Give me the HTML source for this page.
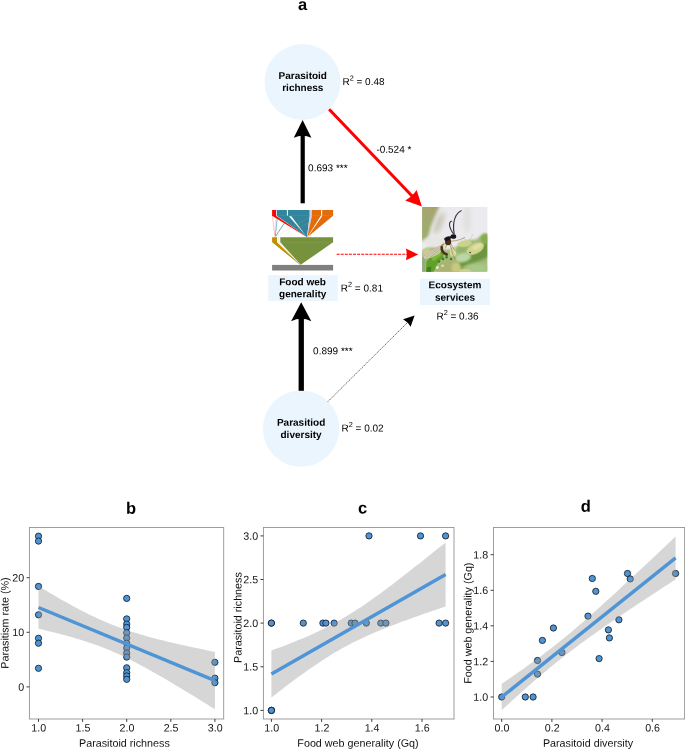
<!DOCTYPE html>
<html lang="en"><head><meta charset="utf-8"><title>Figure</title>
<style>html,body{margin:0;padding:0;background:#fff}svg{display:block;will-change:transform}text{font-family:"Liberation Sans", Arial, Helvetica, sans-serif;fill:#000;text-rendering:geometricPrecision}.b{font-weight:bold}.lab{font-size:10px}.ax{font-size:10.75px;fill:#111}.tk{font-size:10.7px;fill:#151515}</style></head><body>
<svg width="685" height="750" viewBox="0 0 685 750">
<rect width="685" height="750" fill="#fff"/>
<g id="panel-a">
<text x="302.6" y="9.9" transform="rotate(0.03 302.6 9.9)" text-anchor="middle" class="b" style="font-size:16.5px">a</text>
<circle cx="302.5" cy="82" r="38" fill="#ebf5fd"/>
<circle cx="301.1" cy="428.6" r="38.2" fill="#ebf5fd"/>
<text x="302.8" y="78.95" transform="rotate(0.03 302.8 78.95)" text-anchor="middle" class="b lab">Parasitoid</text>
<text x="302.8" y="91.0" transform="rotate(0.03 302.8 91.0)" text-anchor="middle" class="b lab">richness</text>
<text x="301.1" y="425.7" transform="rotate(0.03 301.1 425.7)" text-anchor="middle" class="b lab">Parasitiod</text>
<text x="301.1" y="437.95" transform="rotate(0.03 301.1 437.95)" text-anchor="middle" class="b lab">diversity</text>
<text x="342.4" y="85.00" transform="rotate(0.03 342.4 85.00)" class="lab">R<tspan dy="-4.6" style="font-size:7.3px">2</tspan><tspan dy="4.6"> = 0.48</tspan></text>
<text x="340.8" y="291.40" transform="rotate(0.03 340.8 291.40)" class="lab">R<tspan dy="-4.6" style="font-size:7.3px">2</tspan><tspan dy="4.6"> = 0.81</tspan></text>
<text x="341.5" y="431.50" transform="rotate(0.03 341.5 431.50)" class="lab">R<tspan dy="-4.6" style="font-size:7.3px">2</tspan><tspan dy="4.6"> = 0.02</tspan></text>
<text x="436.4" y="319.60" transform="rotate(0.03 436.4 319.60)" class="lab">R<tspan dy="-4.6" style="font-size:7.3px">2</tspan><tspan dy="4.6"> = 0.36</tspan></text>
<rect x="268.2" y="275.1" width="69.5" height="25.9" fill="#ebf5fd"/>
<text x="302.6" y="285.2" transform="rotate(0.03 302.6 285.2)" text-anchor="middle" class="b lab">Food web</text>
<text x="302.7" y="297.25" transform="rotate(0.03 302.7 297.25)" text-anchor="middle" class="b lab">generality</text>
<rect x="420" y="278.75" width="70" height="26.2" fill="#ebf5fd"/>
<text x="455" y="288.25" transform="rotate(0.03 455 288.25)" text-anchor="middle" class="b lab">Ecosystem</text>
<text x="455" y="300.75" transform="rotate(0.03 455 300.75)" text-anchor="middle" class="b lab">services</text>
<text x="376.4" y="152.85" transform="rotate(0.03 376.4 152.85)" class="lab">-0.524 *</text>
<text x="308.1" y="171.35" transform="rotate(0.03 308.1 171.35)" class="lab">0.693 ***</text>
<text x="313.1" y="354.15" transform="rotate(0.03 313.1 354.15)" class="lab">0.899 ***</text>
<rect x="300.6" y="134" width="4.2" height="69.3" fill="#000"/>
<path d="M302.6 120 L311.4 137.8 Q302.6 133.6 293.8 137.8 Z" fill="#000"/>
<rect x="298.6" y="318" width="5.3" height="72.8" fill="#000"/>
<path d="M301.2 302.3 L311.3 321.2 Q301.2 316.4 291.1 321.2 Z" fill="#000"/>
<line x1="329.1" y1="109.2" x2="413" y2="197" stroke="#ff0000" stroke-width="3"/>
<path d="M421.9 206.4 L416.6 189.9 Q412.6 196 405.2 200.5 Z" fill="#ff0000"/>
<line x1="336.6" y1="254.3" x2="407" y2="254.3" stroke="#ff0000" stroke-width="1.05" stroke-dasharray="3 1.1"/>
<path d="M418.2 254.4 L405.9 248.6 Q407.6 254.4 405.9 260.2 Z" fill="#ff0000"/>
<line x1="327.8" y1="401.7" x2="408" y2="322" stroke="#1a1a1a" stroke-width="0.7" stroke-dasharray="1.4 0.9"/>
<path d="M414.6 315.5 L403.1 319.3 Q407.9 322.1 410.6 326.8 Z" fill="#000"/>
<g id="foodweb">
<rect x="272.1" y="210.0" width="3.9" height="5.9999999999999885" fill="#ff0000"/>
<rect x="276.7" y="210.0" width="10.2" height="5.9999999999999885" fill="#31859c"/>
<rect x="287.9" y="210.0" width="21.8" height="5.9999999999999885" fill="#31859c"/>
<rect x="309.7" y="210.0" width="2.2" height="5.9999999999999885" fill="#d4cde6"/>
<rect x="311.9" y="210.0" width="9.2" height="5.9999999999999885" fill="#e36c0a"/>
<rect x="322.2" y="210.0" width="10.9" height="5.9999999999999885" fill="#e36c0a"/>
<path d="M276.7 215.7 L309.7 215.7 L307.0 236.9 Z" fill="#31859c"/>
<path d="M272.1 215.7 L275.9 215.7 L307.0 236.9 L306.7 236.9 Z" fill="#ff0000"/>
<path d="M289.0 216.2 L291.4 216.2 L306.0 235.9 Z" fill="#fff"/>
<path d="M272.3 216 L274.9 236.3" stroke="#ff6060" stroke-width="0.35" fill="none"/>
<path d="M275.6 217.5 L274.9 236.3" stroke="#ff8080" stroke-width="0.3" fill="none"/>
<path d="M277.2 218.4 L275.29999999999995 236.3" stroke="#31859c" stroke-width="0.55" fill="none"/>
<path d="M284.4 223 L275.7 236.3" stroke="#31859c" stroke-width="0.7" fill="none"/>
<path d="M310.4 216.6 L276.09999999999997 236.3" stroke="#e9a468" stroke-width="0.3" fill="none" opacity="0.6"/>
<path d="M309 222.3 L296 229.5" stroke="#d99a5e" stroke-width="0.3" fill="none" opacity="0.6"/>
<path d="M309.7 215.7 L311.9 215.7 L307.5 236.9 L307.0 236.9 Z" fill="#d4cde6"/>
<path d="M311.9 215.7 L321.1 215.7 L307.3 236.9 Z" fill="#e36c0a"/>
<path d="M322.2 215.7 L333.1 215.7 L307.6 236.9 Z" fill="#e36c0a"/>
<path d="M321.0 215.7 L322.3 215.7 L308.2 236.1 Z" fill="#fff"/>
<rect x="276.7" y="215.5" width="33" height="0.4" fill="#5aa0b4" opacity="0.7"/>
<rect x="311.9" y="215.5" width="21.2" height="0.4" fill="#ee9040" opacity="0.7"/>
<path d="M272.1 237.2 L277.0 237.2 L277.0 242.3 L300.4 264.8 L299.3 264.2 L272.1 242.3 Z" fill="#bf9000"/>
<path d="M278.3 237.2 L279.1 237.2 L279.1 242.3 L300.7 264.8 L278.3 242.3 Z" fill="#e4e0d4"/>
<path d="M280.3 237.2 L333.1 237.2 L333.1 242.3 L300.7 264.8 L280.3 242.3 Z" fill="#76923c"/>
<rect x="280.3" y="242.10000000000002" width="52.8" height="0.4" fill="#8fa85c" opacity="0.8"/>
<rect x="272.1" y="264.9" width="61" height="5.6" fill="#7f7f7f"/>
</g>
<g id="photo">
<defs><linearGradient id="bgg" x1="0" y1="0" x2="0" y2="1"><stop offset="0" stop-color="#a9a170"/><stop offset="0.35" stop-color="#a4a870"/><stop offset="1" stop-color="#9aae6c"/></linearGradient><clipPath id="phc"><rect x="0" y="0" width="65.3" height="64.7"/></clipPath><filter id="b4" x="-60%" y="-60%" width="220%" height="220%"><feGaussianBlur stdDeviation="2.8"/></filter><filter id="b2" x="-60%" y="-60%" width="220%" height="220%"><feGaussianBlur stdDeviation="1.6"/></filter><filter id="b1" x="-60%" y="-60%" width="220%" height="220%"><feGaussianBlur stdDeviation="0.9"/></filter><filter id="b05" x="-60%" y="-60%" width="220%" height="220%"><feGaussianBlur stdDeviation="0.5"/></filter><filter id="b03" x="-60%" y="-60%" width="220%" height="220%"><feGaussianBlur stdDeviation="0.32"/></filter></defs>
<g transform="translate(422.1 207.1)" clip-path="url(#phc)">
<rect x="-2" y="-2" width="70" height="70" fill="#ebeaee"/>
<path d="M-4 -4 L19 -4 L14 7 L9 19 L5.5 32 L-4 35 Z" fill="url(#bgg)" filter="url(#b2)"/>
<ellipse cx="17" cy="16" rx="3.5" ry="12" transform="rotate(22 17 16)" fill="#c2bfaa" filter="url(#b4)" opacity="0.85"/>
<ellipse cx="45" cy="12" rx="3.5" ry="14" fill="#dbdcd5" filter="url(#b4)" opacity="0.8"/>
<ellipse cx="14" cy="34" rx="12" ry="5" fill="#e8e6e3" filter="url(#b2)"/>
<path d="M66 26.5 L59 28.5 L54 32.5 L47 33 L40 35 L35 39.5 L26 43 L14 40.5 L6 40.5 L-1 44 L-1 66 L66 66 Z" fill="#a3ba78" filter="url(#b1)"/>
<path d="M66 33 L58 40 L50 46 L42 52 L33 57 L36 62 L48 58 L66 50 Z" fill="#6a943c" filter="url(#b2)"/>
<ellipse cx="41" cy="50.5" rx="8" ry="4.6" transform="rotate(-12 41 50.5)" fill="#bcd6a6" filter="url(#b1)"/>
<ellipse cx="54" cy="61" rx="12" ry="4.5" fill="#a6c888" filter="url(#b2)"/>
<ellipse cx="63" cy="31.5" rx="4.5" ry="5" fill="#83ad50" filter="url(#b1)"/>
<path d="M36 40 L46 39 L42 45 L35 46 Z" fill="#8fb668" filter="url(#b1)"/>
<path d="M12 66 L17 56 L30 50.5 L37 57 L37 66 Z" fill="#aab471" filter="url(#b1)"/>
<ellipse cx="5" cy="45" rx="5" ry="3.6" fill="#cbcb94" filter="url(#b1)"/>
<path d="M3.6 66 L4.4 54 L9 49.5 L18.5 44.2 L21 47 L21.3 50.5 L16 55.5 L11 66 Z" fill="#62a02a" filter="url(#b05)"/>
<path d="M9.5 51 L18 46 L19.8 48 L11 54.5 Z" fill="#7ab834" filter="url(#b05)"/>
<path d="M4.2 66 L5 60.5 L9 59.5 L9 66 Z" fill="#3f7f1f" filter="url(#b05)"/>
<rect x="-1" y="50" width="4.2" height="16" fill="#92ab7c" filter="url(#b05)"/>
<circle cx="21" cy="51.9" r="1.2" fill="#3b7a2c" filter="url(#b05)"/>
<circle cx="28.9" cy="51.9" r="1.2" fill="#3b7a2c" filter="url(#b05)"/>
<circle cx="16.8" cy="54.5" r="1.2" fill="#3b7a2c" filter="url(#b05)"/>
<circle cx="24.5" cy="50.2" r="1.2" fill="#3b7a2c" filter="url(#b05)"/>
<circle cx="15.2" cy="60.3" r="1.5" fill="#e2e6d2" filter="url(#b05)"/>
<circle cx="20.5" cy="58.6" r="1.2" fill="#dde2c8" filter="url(#b05)"/>
<ellipse cx="42.5" cy="36.6" rx="7.2" ry="3.2" transform="rotate(-8 42.5 36.6)" fill="#cfd08a" filter="url(#b05)"/>
<ellipse cx="53.3" cy="41.6" rx="9.2" ry="5.0" transform="rotate(-27 53.3 41.6)" fill="#d1d48d" filter="url(#b05)"/>
<ellipse cx="55" cy="39.5" rx="5" ry="2.2" transform="rotate(-27 55 39.5)" fill="#dde0a4" filter="url(#b05)"/>
<circle cx="48" cy="45.3" r="0.75" fill="#2e2210" filter="url(#b03)"/>
<ellipse cx="31" cy="45" rx="3.3" ry="4.6" fill="#d3db9e" filter="url(#b05)"/>
<ellipse cx="34" cy="60.5" rx="4.6" ry="5" fill="#c9c982" filter="url(#b1)"/>
<ellipse cx="43" cy="63.8" rx="6" ry="2" fill="#cfcf90" filter="url(#b05)"/>
<path d="M47.5 33 L49.5 29.5 L50.8 26.8 M44 33 L40.5 31 M55 36 L58 32" stroke="#b9ad8a" stroke-width="0.45" fill="none" opacity="0.75"/>
<path d="M23.5 35.5 L1 48 L2 52 L10 50.5 L17 47 L22 41 Z" fill="#d9d1bb" opacity="0.78" filter="url(#b05)"/>
<path d="M22.5 36 L1.5 48.8 M21.5 38 L4 50 M21 40 L8 50" stroke="#9b8468" stroke-width="0.5" fill="none" opacity="0.7" filter="url(#b03)"/>
<path d="M20 37.5 L6 46.5" stroke="#d9b8c0" stroke-width="0.9" fill="none" opacity="0.7" filter="url(#b03)"/>
<g filter="url(#b03)">
<path d="M27.5 37 L29.5 42 L30.5 47 L33.5 52.5 M28.5 36 L31 41 L34.5 44.5 M24.5 37.5 L23.5 41 M29 34 L34 33.6 L38.5 32.3 L43 30.2" stroke="#8a683c" stroke-width="0.55" fill="none"/>
<path d="M19.6 39.8 Q19.0 45.6 24.6 47.4" stroke="#463016" stroke-width="2.5" stroke-linecap="round" fill="none"/>
<path d="M19.8 39 L21.5 36.6" stroke="#b07a30" stroke-width="1.1" fill="none"/>
<ellipse cx="26" cy="34.8" rx="3.1" ry="3.3" fill="#4a2e16"/>
<ellipse cx="25.4" cy="31.5" rx="3.4" ry="2.1" transform="rotate(-20 25.4 31.5)" fill="#1f181a"/>
<ellipse cx="31.3" cy="29.4" rx="2.8" ry="2.3" fill="#17131a"/>
<path d="M27.5 30.6 L29.5 29.7" stroke="#1c1618" stroke-width="1.6"/>
<path d="M32.1 27.2 C31 21 31.6 13 34 8.5 C35.4 6 37 4.4 39 3.6" stroke="#3e3040" stroke-width="1.15" stroke-linecap="round" fill="none"/>
<path d="M31.2 26.6 C29.5 24 27.6 21 27.4 17.6 C27.3 15.4 28.4 14 29.6 14.2" stroke="#3e3040" stroke-width="1.1" stroke-linecap="round" fill="none"/>
</g>
</g></g>
</g>
<g id="chart-b">
<text x="131.1" y="513.7" transform="rotate(0.03 131.1 513.7)" text-anchor="middle" class="b" style="font-size:16.5px">b</text>
<circle cx="38.5" cy="536.2" r="3.15" fill="#4f94d4" stroke="#0b0f14" stroke-width="0.75"/>
<circle cx="38.5" cy="541.1" r="3.15" fill="#4f94d4" stroke="#0b0f14" stroke-width="0.75"/>
<circle cx="38.5" cy="586.4" r="3.15" fill="#4f94d4" stroke="#0b0f14" stroke-width="0.75"/>
<circle cx="38.5" cy="614.8" r="3.15" fill="#4f94d4" stroke="#0b0f14" stroke-width="0.75"/>
<circle cx="38.5" cy="638.3" r="3.15" fill="#4f94d4" stroke="#0b0f14" stroke-width="0.75"/>
<circle cx="38.5" cy="643.2" r="3.15" fill="#4f94d4" stroke="#0b0f14" stroke-width="0.75"/>
<circle cx="38.5" cy="668.3" r="3.15" fill="#4f94d4" stroke="#0b0f14" stroke-width="0.75"/>
<circle cx="126.7" cy="598.4" r="3.15" fill="#4f94d4" stroke="#0b0f14" stroke-width="0.75"/>
<circle cx="126.7" cy="618.9" r="3.15" fill="#4f94d4" stroke="#0b0f14" stroke-width="0.75"/>
<circle cx="126.7" cy="624.1" r="3.15" fill="#4f94d4" stroke="#0b0f14" stroke-width="0.75"/>
<circle cx="126.7" cy="627.4" r="3.15" fill="#4f94d4" stroke="#0b0f14" stroke-width="0.75"/>
<circle cx="126.7" cy="632.8" r="3.15" fill="#4f94d4" stroke="#0b0f14" stroke-width="0.75"/>
<circle cx="126.7" cy="638.0" r="3.15" fill="#4f94d4" stroke="#0b0f14" stroke-width="0.75"/>
<circle cx="126.7" cy="643.2" r="3.15" fill="#4f94d4" stroke="#0b0f14" stroke-width="0.75"/>
<circle cx="126.7" cy="648.1" r="3.15" fill="#4f94d4" stroke="#0b0f14" stroke-width="0.75"/>
<circle cx="126.7" cy="653.0" r="3.15" fill="#4f94d4" stroke="#0b0f14" stroke-width="0.75"/>
<circle cx="126.7" cy="657.1" r="3.15" fill="#4f94d4" stroke="#0b0f14" stroke-width="0.75"/>
<circle cx="126.7" cy="667.8" r="3.15" fill="#4f94d4" stroke="#0b0f14" stroke-width="0.75"/>
<circle cx="126.7" cy="672.7" r="3.15" fill="#4f94d4" stroke="#0b0f14" stroke-width="0.75"/>
<circle cx="126.7" cy="676.0" r="3.15" fill="#4f94d4" stroke="#0b0f14" stroke-width="0.75"/>
<circle cx="126.7" cy="679.3" r="3.15" fill="#4f94d4" stroke="#0b0f14" stroke-width="0.75"/>
<circle cx="214.9" cy="662.3" r="3.15" fill="#4f94d4" stroke="#0b0f14" stroke-width="0.75"/>
<circle cx="214.9" cy="678.2" r="3.15" fill="#4f94d4" stroke="#0b0f14" stroke-width="0.75"/>
<circle cx="214.9" cy="682.7" r="3.15" fill="#4f94d4" stroke="#0b0f14" stroke-width="0.75"/>
<polygon points="38.5,586.2 42.3,588.4 46.0,590.6 49.8,592.9 53.5,595.1 57.3,597.2 61.0,599.4 64.8,601.5 68.5,603.6 72.3,605.7 76.0,607.7 79.8,609.7 83.5,611.6 87.3,613.5 91.0,615.4 94.8,617.1 98.6,618.9 102.3,620.6 106.1,622.2 109.8,623.8 113.6,625.3 117.3,626.7 121.1,628.1 124.8,629.4 128.6,630.7 132.3,631.9 136.1,633.1 139.8,634.2 143.6,635.3 147.3,636.4 151.1,637.4 154.8,638.4 158.6,639.4 162.4,640.3 166.1,641.3 169.9,642.2 173.6,643.0 177.4,643.9 181.1,644.8 184.9,645.6 188.6,646.4 192.4,647.2 196.1,648.1 199.9,648.8 203.6,649.6 207.4,650.4 211.1,651.2 214.9,652.0 214.9,709.3 211.1,706.9 207.4,704.6 203.6,702.3 199.9,699.9 196.1,697.6 192.4,695.3 188.6,693.0 184.9,690.7 181.1,688.5 177.4,686.2 173.6,684.0 169.9,681.7 166.1,679.5 162.4,677.3 158.6,675.2 154.8,673.0 151.1,670.9 147.3,668.8 143.6,666.8 139.8,664.7 136.1,662.8 132.3,660.8 128.6,658.9 124.8,657.1 121.1,655.3 117.3,653.6 113.6,651.9 109.8,650.3 106.1,648.8 102.3,647.3 98.6,645.8 94.8,644.5 91.0,643.2 87.3,641.9 83.5,640.7 79.8,639.5 76.0,638.4 72.3,637.3 68.5,636.2 64.8,635.2 61.0,634.2 57.3,633.3 53.5,632.3 49.8,631.4 46.0,630.5 42.3,629.6 38.5,628.8" fill="#999" fill-opacity="0.4"/>
<line x1="38.5" y1="607.5" x2="214.9" y2="680.6" stroke="#4f94d4" stroke-width="3.4"/>
<rect x="29.4" y="527.5" width="194.29999999999998" height="191.5" fill="none" stroke="#939393" stroke-width="0.9"/>
<line x1="38.5" y1="719.0" x2="38.5" y2="721.9" stroke="#333" stroke-width="0.95"/>
<text x="38.8" y="731.45" transform="rotate(0.03 38.8 731.45)" text-anchor="middle" class="tk">1.0</text>
<line x1="82.6" y1="719.0" x2="82.6" y2="721.9" stroke="#333" stroke-width="0.95"/>
<text x="82.9" y="731.45" transform="rotate(0.03 82.9 731.45)" text-anchor="middle" class="tk">1.5</text>
<line x1="126.7" y1="719.0" x2="126.7" y2="721.9" stroke="#333" stroke-width="0.95"/>
<text x="127.0" y="731.45" transform="rotate(0.03 127.0 731.45)" text-anchor="middle" class="tk">2.0</text>
<line x1="170.8" y1="719.0" x2="170.8" y2="721.9" stroke="#333" stroke-width="0.95"/>
<text x="171.1" y="731.45" transform="rotate(0.03 171.1 731.45)" text-anchor="middle" class="tk">2.5</text>
<line x1="214.9" y1="719.0" x2="214.9" y2="721.9" stroke="#333" stroke-width="0.95"/>
<text x="215.2" y="731.45" transform="rotate(0.03 215.2 731.45)" text-anchor="middle" class="tk">3.0</text>
<line x1="26.5" y1="686.9" x2="29.4" y2="686.9" stroke="#333" stroke-width="0.95"/>
<text x="24.099999999999998" y="690.7" transform="rotate(0.03 24.099999999999998 690.7)" text-anchor="end" class="tk">0</text>
<line x1="26.5" y1="632.3" x2="29.4" y2="632.3" stroke="#333" stroke-width="0.95"/>
<text x="24.099999999999998" y="636.1" transform="rotate(0.03 24.099999999999998 636.1)" text-anchor="end" class="tk">10</text>
<line x1="26.5" y1="577.7" x2="29.4" y2="577.7" stroke="#333" stroke-width="0.95"/>
<text x="24.099999999999998" y="581.5" transform="rotate(0.03 24.099999999999998 581.5)" text-anchor="end" class="tk">20</text>
<text x="124.4" y="746.7" transform="rotate(0.03 124.4 746.7)" text-anchor="middle" class="ax">Parasitoid richness</text>
<text transform="translate(8.6 623) rotate(-89.97)" text-anchor="middle" class="ax">Parasitism rate (%)</text>
</g>
<g id="chart-c">
<text x="362.5" y="513.6" transform="rotate(0.03 362.5 513.6)" text-anchor="middle" class="b" style="font-size:16.5px">c</text>
<circle cx="271.4" cy="710.4" r="3.15" fill="#4f94d4" stroke="#0b0f14" stroke-width="0.75"/>
<circle cx="271.4" cy="710.4" r="3.15" fill="#4f94d4" stroke="#0b0f14" stroke-width="0.75"/>
<circle cx="271.4" cy="710.4" r="3.15" fill="#4f94d4" stroke="#0b0f14" stroke-width="0.75"/>
<circle cx="271.4" cy="623.1" r="3.15" fill="#4f94d4" stroke="#0b0f14" stroke-width="0.75"/>
<circle cx="271.4" cy="623.1" r="3.15" fill="#4f94d4" stroke="#0b0f14" stroke-width="0.75"/>
<circle cx="303.3" cy="623.1" r="3.15" fill="#4f94d4" stroke="#0b0f14" stroke-width="0.75"/>
<circle cx="322.9" cy="623.1" r="3.15" fill="#4f94d4" stroke="#0b0f14" stroke-width="0.75"/>
<circle cx="325.9" cy="623.1" r="3.15" fill="#4f94d4" stroke="#0b0f14" stroke-width="0.75"/>
<circle cx="334.1" cy="623.1" r="3.15" fill="#4f94d4" stroke="#0b0f14" stroke-width="0.75"/>
<circle cx="351.2" cy="623.1" r="3.15" fill="#4f94d4" stroke="#0b0f14" stroke-width="0.75"/>
<circle cx="355.0" cy="623.1" r="3.15" fill="#4f94d4" stroke="#0b0f14" stroke-width="0.75"/>
<circle cx="366.3" cy="623.1" r="3.15" fill="#4f94d4" stroke="#0b0f14" stroke-width="0.75"/>
<circle cx="380.8" cy="623.1" r="3.15" fill="#4f94d4" stroke="#0b0f14" stroke-width="0.75"/>
<circle cx="385.9" cy="623.1" r="3.15" fill="#4f94d4" stroke="#0b0f14" stroke-width="0.75"/>
<circle cx="369.0" cy="535.9" r="3.15" fill="#4f94d4" stroke="#0b0f14" stroke-width="0.75"/>
<circle cx="420.5" cy="535.9" r="3.15" fill="#4f94d4" stroke="#0b0f14" stroke-width="0.75"/>
<circle cx="445.6" cy="535.9" r="3.15" fill="#4f94d4" stroke="#0b0f14" stroke-width="0.75"/>
<circle cx="439.1" cy="623.1" r="3.15" fill="#4f94d4" stroke="#0b0f14" stroke-width="0.75"/>
<circle cx="445.6" cy="623.1" r="3.15" fill="#4f94d4" stroke="#0b0f14" stroke-width="0.75"/>
<polygon points="271.4,650.5 275.1,649.1 278.8,647.7 282.5,646.4 286.2,644.9 289.9,643.5 293.6,642.0 297.3,640.5 301.1,639.0 304.8,637.5 308.5,635.9 312.2,634.2 315.9,632.5 319.6,630.8 323.3,628.9 327.0,627.1 330.7,625.2 334.4,623.2 338.1,621.1 341.8,619.0 345.5,616.8 349.2,614.5 352.9,612.2 356.6,609.8 360.4,607.4 364.1,604.9 367.8,602.3 371.5,599.7 375.2,597.1 378.9,594.4 382.6,591.7 386.3,589.0 390.0,586.2 393.7,583.4 397.4,580.6 401.1,577.7 404.8,574.8 408.5,571.9 412.2,569.0 415.9,566.1 419.7,563.2 423.4,560.2 427.1,557.3 430.8,554.3 434.5,551.3 438.2,548.3 441.9,545.4 445.6,542.4 445.6,606.6 441.9,607.8 438.2,609.1 434.5,610.3 430.8,611.6 427.1,612.8 423.4,614.1 419.7,615.4 415.9,616.7 412.2,618.0 408.5,619.4 404.8,620.7 401.1,622.1 397.4,623.4 393.7,624.9 390.0,626.3 386.3,627.7 382.6,629.2 378.9,630.8 375.2,632.3 371.5,633.9 367.8,635.5 364.1,637.2 360.4,639.0 356.6,640.8 352.9,642.6 349.2,644.5 345.5,646.5 341.8,648.6 338.1,650.7 334.4,652.8 330.7,655.1 327.0,657.4 323.3,659.8 319.6,662.2 315.9,664.7 312.2,667.2 308.5,669.8 304.8,672.5 301.1,675.1 297.3,677.8 293.6,680.6 289.9,683.3 286.2,686.1 282.5,689.0 278.8,691.8 275.1,694.7 271.4,697.6" fill="#999" fill-opacity="0.4"/>
<line x1="271.4" y1="674.0" x2="445.6" y2="574.5" stroke="#4f94d4" stroke-width="3.4"/>
<rect x="263.4" y="527.5" width="190.60000000000002" height="191.5" fill="none" stroke="#939393" stroke-width="0.9"/>
<line x1="271.4" y1="719.0" x2="271.4" y2="721.9" stroke="#333" stroke-width="0.95"/>
<text x="271.7" y="731.45" transform="rotate(0.03 271.7 731.45)" text-anchor="middle" class="tk">1.0</text>
<line x1="321.6" y1="719.0" x2="321.6" y2="721.9" stroke="#333" stroke-width="0.95"/>
<text x="321.9" y="731.45" transform="rotate(0.03 321.9 731.45)" text-anchor="middle" class="tk">1.2</text>
<line x1="371.8" y1="719.0" x2="371.8" y2="721.9" stroke="#333" stroke-width="0.95"/>
<text x="372.1" y="731.45" transform="rotate(0.03 372.1 731.45)" text-anchor="middle" class="tk">1.4</text>
<line x1="422.0" y1="719.0" x2="422.0" y2="721.9" stroke="#333" stroke-width="0.95"/>
<text x="422.3" y="731.45" transform="rotate(0.03 422.3 731.45)" text-anchor="middle" class="tk">1.6</text>
<line x1="260.5" y1="710.4" x2="263.4" y2="710.4" stroke="#333" stroke-width="0.95"/>
<text x="258.09999999999997" y="714.2" transform="rotate(0.03 258.09999999999997 714.2)" text-anchor="end" class="tk">1.0</text>
<line x1="260.5" y1="666.8" x2="263.4" y2="666.8" stroke="#333" stroke-width="0.95"/>
<text x="258.09999999999997" y="670.6" transform="rotate(0.03 258.09999999999997 670.6)" text-anchor="end" class="tk">1.5</text>
<line x1="260.5" y1="623.1" x2="263.4" y2="623.1" stroke="#333" stroke-width="0.95"/>
<text x="258.09999999999997" y="626.9" transform="rotate(0.03 258.09999999999997 626.9)" text-anchor="end" class="tk">2.0</text>
<line x1="260.5" y1="579.5" x2="263.4" y2="579.5" stroke="#333" stroke-width="0.95"/>
<text x="258.09999999999997" y="583.3" transform="rotate(0.03 258.09999999999997 583.3)" text-anchor="end" class="tk">2.5</text>
<line x1="260.5" y1="535.9" x2="263.4" y2="535.9" stroke="#333" stroke-width="0.95"/>
<text x="258.09999999999997" y="539.7" transform="rotate(0.03 258.09999999999997 539.7)" text-anchor="end" class="tk">3.0</text>
<text x="358" y="746.7" transform="rotate(0.03 358 746.7)" text-anchor="middle" class="ax">Food web generality (Gq)</text>
<text transform="translate(241.5 617.6) rotate(-89.97)" text-anchor="middle" class="ax">Parasitoid richness</text>
</g>
<g id="chart-d">
<text x="585.8" y="511.8" transform="rotate(0.03 585.8 511.8)" text-anchor="middle" class="b" style="font-size:16.5px">d</text>
<circle cx="501.7" cy="697.0" r="3.15" fill="#4f94d4" stroke="#0b0f14" stroke-width="0.75"/>
<circle cx="525.3" cy="697.0" r="3.15" fill="#4f94d4" stroke="#0b0f14" stroke-width="0.75"/>
<circle cx="533.1" cy="697.0" r="3.15" fill="#4f94d4" stroke="#0b0f14" stroke-width="0.75"/>
<circle cx="537.5" cy="674.1" r="3.15" fill="#4f94d4" stroke="#0b0f14" stroke-width="0.75"/>
<circle cx="537.5" cy="660.5" r="3.15" fill="#4f94d4" stroke="#0b0f14" stroke-width="0.75"/>
<circle cx="542.4" cy="640.4" r="3.15" fill="#4f94d4" stroke="#0b0f14" stroke-width="0.75"/>
<circle cx="553.4" cy="628.0" r="3.15" fill="#4f94d4" stroke="#0b0f14" stroke-width="0.75"/>
<circle cx="561.9" cy="652.5" r="3.15" fill="#4f94d4" stroke="#0b0f14" stroke-width="0.75"/>
<circle cx="588.0" cy="616.1" r="3.15" fill="#4f94d4" stroke="#0b0f14" stroke-width="0.75"/>
<circle cx="592.3" cy="578.5" r="3.15" fill="#4f94d4" stroke="#0b0f14" stroke-width="0.75"/>
<circle cx="595.8" cy="591.3" r="3.15" fill="#4f94d4" stroke="#0b0f14" stroke-width="0.75"/>
<circle cx="599.1" cy="658.6" r="3.15" fill="#4f94d4" stroke="#0b0f14" stroke-width="0.75"/>
<circle cx="608.4" cy="629.9" r="3.15" fill="#4f94d4" stroke="#0b0f14" stroke-width="0.75"/>
<circle cx="609.4" cy="637.9" r="3.15" fill="#4f94d4" stroke="#0b0f14" stroke-width="0.75"/>
<circle cx="618.9" cy="619.8" r="3.15" fill="#4f94d4" stroke="#0b0f14" stroke-width="0.75"/>
<circle cx="627.5" cy="573.5" r="3.15" fill="#4f94d4" stroke="#0b0f14" stroke-width="0.75"/>
<circle cx="630.2" cy="578.9" r="3.15" fill="#4f94d4" stroke="#0b0f14" stroke-width="0.75"/>
<circle cx="675.6" cy="573.5" r="3.15" fill="#4f94d4" stroke="#0b0f14" stroke-width="0.75"/>
<polygon points="501.7,683.8 505.4,681.3 509.1,678.8 512.8,676.2 516.5,673.6 520.2,671.0 523.9,668.4 527.6,665.8 531.3,663.1 535.0,660.4 538.7,657.7 542.4,654.9 546.1,652.1 549.8,649.3 553.5,646.4 557.2,643.5 560.9,640.5 564.6,637.5 568.3,634.4 572.0,631.4 575.7,628.2 579.4,625.1 583.1,621.9 586.8,618.6 590.5,615.4 594.2,612.1 597.9,608.8 601.6,605.5 605.3,602.1 609.0,598.7 612.7,595.4 616.4,592.0 620.1,588.6 623.8,585.1 627.5,581.7 631.2,578.2 634.9,574.8 638.6,571.3 642.3,567.8 646.0,564.4 649.7,560.9 653.4,557.4 657.1,553.9 660.8,550.4 664.5,546.9 668.2,543.4 671.9,539.9 675.6,536.4 675.6,579.4 671.9,581.8 668.2,584.2 664.5,586.6 660.8,589.0 657.1,591.5 653.4,593.9 649.7,596.3 646.0,598.8 642.3,601.2 638.6,603.6 634.9,606.1 631.2,608.6 627.5,611.0 623.8,613.5 620.1,616.0 616.4,618.5 612.7,621.0 609.0,623.6 605.3,626.1 601.6,628.7 597.9,631.3 594.2,633.9 590.5,636.5 586.8,639.2 583.1,641.9 579.4,644.6 575.7,647.4 572.0,650.2 568.3,653.0 564.6,655.9 560.9,658.8 557.2,661.7 553.5,664.7 549.8,667.8 546.1,670.9 542.4,674.0 538.7,677.1 535.0,680.3 531.3,683.5 527.6,686.8 523.9,690.1 520.2,693.4 516.5,696.7 512.8,700.0 509.1,703.4 505.4,706.8 501.7,710.2" fill="#999" fill-opacity="0.4"/>
<line x1="501.7" y1="697.0" x2="675.6" y2="557.9" stroke="#4f94d4" stroke-width="3.4"/>
<rect x="493.5" y="527.5" width="191.10000000000002" height="191.5" fill="none" stroke="#939393" stroke-width="0.9"/>
<line x1="501.7" y1="719.0" x2="501.7" y2="721.9" stroke="#333" stroke-width="0.95"/>
<text x="502.0" y="731.45" transform="rotate(0.03 502.0 731.45)" text-anchor="middle" class="tk">0.0</text>
<line x1="551.9" y1="719.0" x2="551.9" y2="721.9" stroke="#333" stroke-width="0.95"/>
<text x="552.2" y="731.45" transform="rotate(0.03 552.2 731.45)" text-anchor="middle" class="tk">0.2</text>
<line x1="602.1" y1="719.0" x2="602.1" y2="721.9" stroke="#333" stroke-width="0.95"/>
<text x="602.4" y="731.45" transform="rotate(0.03 602.4 731.45)" text-anchor="middle" class="tk">0.4</text>
<line x1="652.3" y1="719.0" x2="652.3" y2="721.9" stroke="#333" stroke-width="0.95"/>
<text x="652.6" y="731.45" transform="rotate(0.03 652.6 731.45)" text-anchor="middle" class="tk">0.6</text>
<line x1="490.6" y1="697.0" x2="493.5" y2="697.0" stroke="#333" stroke-width="0.95"/>
<text x="488.2" y="700.8" transform="rotate(0.03 488.2 700.8)" text-anchor="end" class="tk">1.0</text>
<line x1="490.6" y1="661.4" x2="493.5" y2="661.4" stroke="#333" stroke-width="0.95"/>
<text x="488.2" y="665.2" transform="rotate(0.03 488.2 665.2)" text-anchor="end" class="tk">1.2</text>
<line x1="490.6" y1="625.8" x2="493.5" y2="625.8" stroke="#333" stroke-width="0.95"/>
<text x="488.2" y="629.6" transform="rotate(0.03 488.2 629.6)" text-anchor="end" class="tk">1.4</text>
<line x1="490.6" y1="590.3" x2="493.5" y2="590.3" stroke="#333" stroke-width="0.95"/>
<text x="488.2" y="594.1" transform="rotate(0.03 488.2 594.1)" text-anchor="end" class="tk">1.6</text>
<line x1="490.6" y1="554.7" x2="493.5" y2="554.7" stroke="#333" stroke-width="0.95"/>
<text x="488.2" y="558.5" transform="rotate(0.03 488.2 558.5)" text-anchor="end" class="tk">1.8</text>
<text x="588" y="746.7" transform="rotate(0.03 588 746.7)" text-anchor="middle" class="ax">Parasitoid diversity</text>
<text transform="translate(471.6 623.2) rotate(-89.97)" text-anchor="middle" class="ax">Food web generality (Gq)</text>
</g>
</svg></body></html>
